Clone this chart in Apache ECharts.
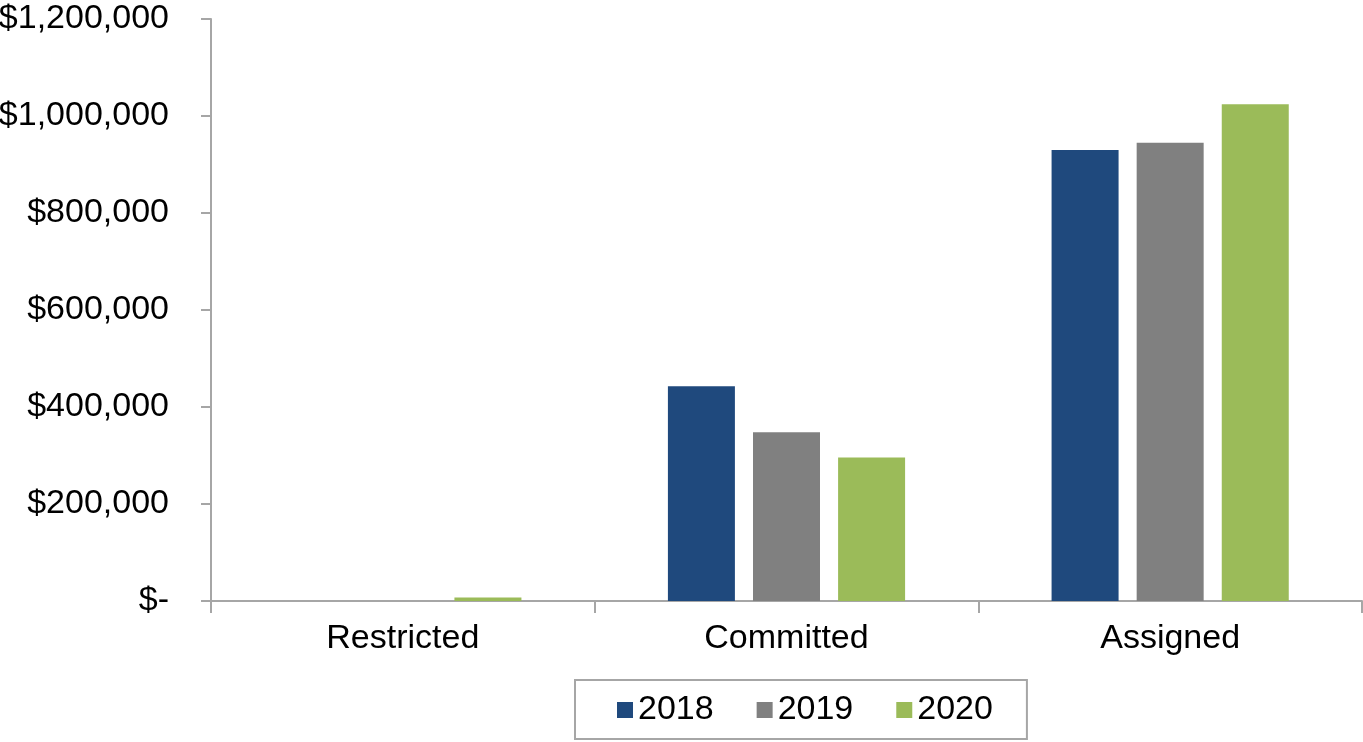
<!DOCTYPE html>
<html>
<head>
<meta charset="utf-8">
<script src="https://cdn.jsdelivr.net/npm/echarts@6/dist/echarts.min.js"></script>
<style>html,body{margin:0;padding:0;background:#fff;}#c{width:1363px;height:742px;}</style>
</head>
<body>
<div id="c"></div>
<script>
var categories = ['Restricted', 'Committed', 'Assigned'];
var seriesNames = ['2018', '2019', '2020'];
var values2018 = [0, 443000, 930000];
var values2019 = [0, 348000, 945000];
var values2020 = [7000, 296000, 1024000];
var colors = ['#1F497D', '#808080', '#9BBB59'];

var FONT = '"Liberation Sans", Arial, sans-serif';
var chart = echarts.init(document.getElementById('c'));
var dataSets = [values2018, values2019, values2020];
chart.setOption({
  animation: false,
  grid: { left: 211, right: 1, top: 19, bottom: 141, containLabel: false, outerBoundsMode: 'none' },
  legend: {
    data: seriesNames,
    left: 575, top: 680,
    itemWidth: 16, itemHeight: 16,
    itemGap: 43,
    icon: 'rect',
    borderColor: '#a6a6a6', borderWidth: 2,
    padding: [13, 34, 12, 42],
    textStyle: { fontFamily: FONT, fontSize: 34, color: '#000' }
  },
  xAxis: {
    type: 'category',
    data: categories,
    axisLine: { lineStyle: { color: '#a6a6a6', width: 2 } },
    axisTick: { show: true, length: 12, alignWithLabel: false, lineStyle: { color: '#a6a6a6', width: 2 } },
    axisLabel: { fontFamily: FONT, fontSize: 34, color: '#000', margin: 21 },
    splitLine: { show: false }
  },
  yAxis: {
    type: 'value',
    min: 0, max: 1200000, interval: 200000,
    axisLine: { show: true, lineStyle: { color: '#a6a6a6', width: 2 } },
    axisTick: { show: true, length: 10, lineStyle: { color: '#a6a6a6', width: 2 } },
    axisLabel: {
      fontFamily: FONT, fontSize: 34, color: '#000', margin: 42,
      formatter: function (v) { return v === 0 ? '$-' : '$' + v.toLocaleString('en-US'); }
    },
    splitLine: { show: false }
  },
  series: seriesNames.map(function (n, i) {
    return {
      name: n, type: 'bar', data: dataSets[i],
      barWidth: 67, barGap: '27%',
      itemStyle: { color: colors[i] }
    };
  })
});
</script>
</body>
</html>
